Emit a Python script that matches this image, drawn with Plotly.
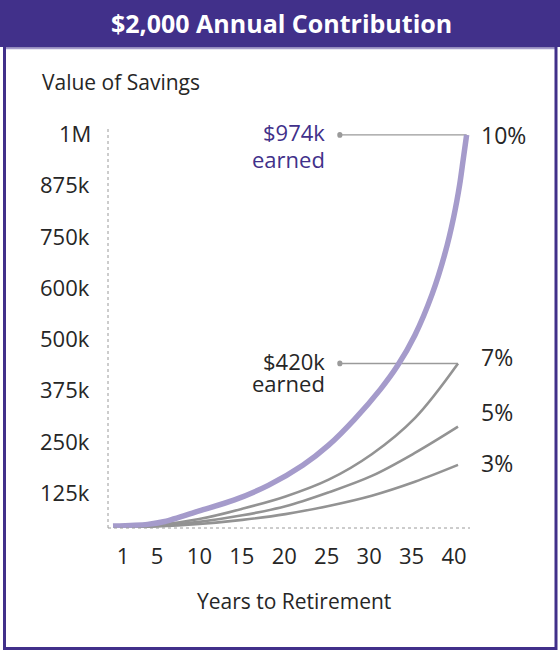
import plotly.graph_objects as go

# ---- data ----
years = [0, 5, 10, 15, 20, 25, 30, 35, 40]
years_10 = [0, 4, 6, 10, 14, 18, 22, 25, 28, 31, 33, 35, 37, 38.5, 39.5, 40.2, 40.6, 41]
rate_10 = [47000, 51000, 58000, 84000, 110000, 146000, 195000, 244000, 307000, 380000, 438000,
           512000, 612000, 712000, 800000, 880000, 940000, 1000000]
rate_7 = [45000, 49000, 64000, 89000, 119000, 160000, 222000, 310000, 443000]
rate_5 = [44500, 47000, 57000, 73000, 95000, 129000, 169000, 225000, 289000]
rate_3 = [44000, 46000, 52000, 62000, 76000, 96000, 121000, 155000, 196000]

y_tickvals = [125000, 250000, 375000, 500000, 625000, 750000, 875000, 1000000]
y_ticktext = ["125k", "250k", "375k", "500k", "600k", "750k", "875k", "1M"]
x_tickvals = [1, 5, 10, 15, 20, 25, 30, 35, 40]
x_ticktext = [str(v) for v in x_tickvals]

title = "$2,000 Annual Contribution"
labels = ["10%", "7%", "5%", "3%"]

PURPLE = "#41308A"
LAV = "#A59BCB"
GRAY = "#939393"
TXT = "#262626"
FONT = "Open Sans"

W, H = 560, 651
def px(x):
    return x / W
def py(y):
    return 1 - y / H

fig = go.Figure()
for vals in (rate_3, rate_5, rate_7):
    fig.add_trace(go.Scatter(x=years, y=vals, mode="lines", line=dict(color=GRAY, width=2.6, shape="spline"),
                             hoverinfo="skip", showlegend=False))
fig.add_trace(go.Scatter(x=years_10, y=rate_10, mode="lines",
                         line=dict(color=LAV, width=5.5, shape="spline", smoothing=0.8),
                         hoverinfo="skip", showlegend=False))
# invisible trace to carry the tick-label axis
fig.add_trace(go.Scatter(x=[x_tickvals[0], x_tickvals[-1]], y=[rate_3[0], rate_3[0]], xaxis="x2",
                         mode="lines", line=dict(width=0), opacity=0, hoverinfo="skip", showlegend=False))

Y0, Y1 = 42150, 1021700
fig.update_layout(
    width=W, height=H, margin=dict(l=0, r=0, t=0, b=0, autoexpand=False),
    paper_bgcolor="white", plot_bgcolor="white",
    font=dict(family=FONT, color=TXT, size=21),
    xaxis=dict(domain=[px(108), px(470)], range=[-0.58, 41.39], showgrid=False, zeroline=False,
               showticklabels=False, ticks="", showline=False, automargin=False),
    xaxis2=dict(domain=[px(108), px(470)], overlaying="x", anchor="y", side="bottom",
                range=[-0.767, 41.885], tickmode="array", tickvals=x_tickvals, ticktext=x_ticktext,
                ticks="outside", ticklen=9, tickcolor="rgba(0,0,0,0)", showgrid=False, zeroline=False,
                showline=False, tickfont=dict(size=22, color=TXT), automargin=False),
    yaxis=dict(domain=[py(528), py(126)], range=[Y0, Y1], tickmode="array", tickvals=y_tickvals,
               showticklabels=False, ticks="", automargin=False,
               showgrid=False, zeroline=False, showline=False),
)

shapes = []
# header bar
shapes.append(dict(type="rect", xref="paper", yref="paper", x0=0, x1=1, y0=py(47), y1=1,
                   fillcolor=PURPLE, line=dict(width=0), layer="below"))
shapes.append(dict(type="line", xref="paper", yref="paper", x0=px(5), x1=px(555), y0=py(48.5), y1=py(48.5),
                   line=dict(color=LAV, width=1.5)))
# frame
shapes.append(dict(type="rect", xref="paper", yref="paper", x0=px(4.5), x1=px(556), y0=py(648.5), y1=py(46),
                   line=dict(color=PURPLE, width=3), fillcolor="rgba(0,0,0,0)"))
# dotted axes
shapes.append(dict(type="line", xref="x domain", yref="y domain", x0=0, x1=0, y0=0, y1=1,
                   line=dict(color="#9a9a9a", width=1, dash="dot")))
shapes.append(dict(type="line", xref="x domain", yref="y domain", x0=0, x1=1, y0=0, y1=0,
                   line=dict(color="#9a9a9a", width=1, dash="dot")))
# leader lines
lead_x = 26.3
for xe, ye in ((years_10[-1], rate_10[-1]), (years[-1], rate_7[-1])):
    shapes.append(dict(type="line", xref="x", yref="y", x0=lead_x, x1=xe, y0=ye, y1=ye,
                       line=dict(color="#9a9a9a", width=1.3), layer="below"))
    shapes.append(dict(type="circle", xref="x", yref="y", x0=lead_x - 0.3, x1=lead_x + 0.3,
                       y0=ye - 7000, y1=ye + 7000, fillcolor="#9a9a9a", line=dict(width=0)))
fig.update_layout(shapes=shapes)

ann = []
# y tick labels placed on the y scale
for v, t in zip(y_tickvals, y_ticktext):
    ann.append(dict(text=t, xref="paper", yref="y", x=px(93 if t == "1M" else 92), y=v, yshift=2,
                    xanchor="right", yanchor="middle", showarrow=False, font=dict(size=22, color=TXT)))
ann.append(dict(text="<b>" + title + "</b>", xref="paper", yref="paper", x=px(281), y=py(23),
                xanchor="center", yanchor="middle", showarrow=False, font=dict(size=25, color="white")))
ann.append(dict(text="Value of Savings", xref="paper", yref="paper", x=px(40), y=py(82),
                xanchor="left", yanchor="middle", showarrow=False, font=dict(size=21, color=TXT)))
ann.append(dict(text="Years to Retirement", xref="paper", yref="paper", x=px(294), y=py(601),
                xanchor="center", yanchor="middle", showarrow=False, font=dict(size=21, color=TXT)))
for t, yy, c in (("$974k", 132, PURPLE), ("earned", 159, PURPLE), ("$420k", 361, TXT), ("earned", 383, TXT)):
    ann.append(dict(text=t, xref="paper", yref="paper", x=px(327), y=py(yy), xanchor="right",
                    yanchor="middle", height=20, valign="middle", showarrow=False,
                    font=dict(size=22, color=c)))
for t, yy in zip(labels, (135, 357, 412, 463)):
    ann.append(dict(text=t, xref="paper", yref="paper", x=px(479), y=py(yy), xanchor="left",
                    yanchor="middle", showarrow=False, font=dict(size=23, color=TXT)))
fig.update_layout(annotations=ann)

fig.write_html("out.html", config={"displayModeBar": False},
               post_script="document.body.style.margin='0';document.body.style.overflow='hidden';")
